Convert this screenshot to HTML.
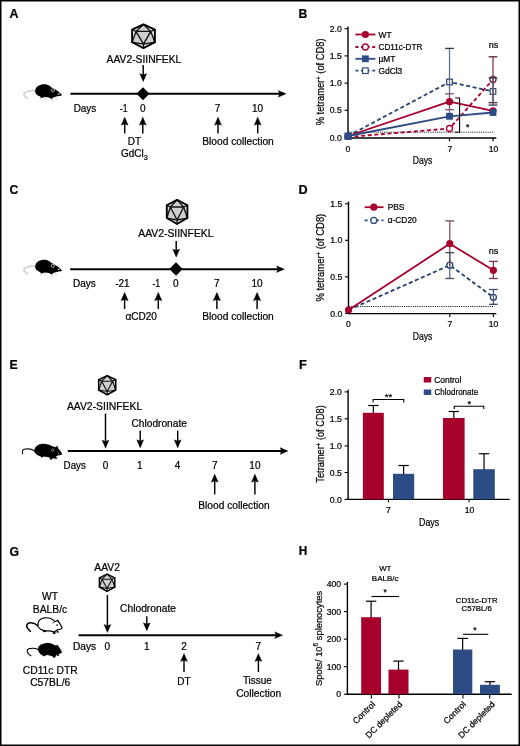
<!DOCTYPE html>
<html><head><meta charset="utf-8"><style>
html,body{margin:0;padding:0;background:#fff;width:520px;height:746px;overflow:hidden}
svg{will-change:transform}
svg text{font-family:"Liberation Sans", sans-serif;stroke:#000;stroke-width:0.22px;paint-order:stroke}
</style></head><body>
<svg width="520" height="746" viewBox="0 0 520 746" style="display:block" font-family='"Liberation Sans", sans-serif'>
<rect x="0" y="0" width="520" height="746" fill="#fff"/>
<text x="9.4" y="17.7" font-size="13" font-weight="bold" fill="#000" textLength="9.0" lengthAdjust="spacingAndGlyphs">A</text>
<g transform="translate(0 0)">
<path d="M35.4,90.8 C33.6,90.4 31.6,90.5 29.6,91 C27.4,91.5 25.4,91.9 24.6,92.8 C23.6,94 24.2,95.6 25.6,96.8 C26.2,97.4 26.8,97.9 27.4,98.2" fill="none" stroke="#d6d6d6" stroke-width="1.9" stroke-linecap="round"/>
<path d="M41,97.4 L40.2,99.4 M44.5,97.6 L45.4,99.8 M51.4,98.6 L52.6,100.6 M55,97.2 L56.6,99.6" stroke="#dcdcdc" stroke-width="1.4" stroke-linecap="round"/>
<path d="M35.2,91.1 C35.2,88.6 36.4,86.9 38,85.9 C40,84.6 43,84.1 45.2,84.3 C47.4,84.5 49.6,85.4 51.4,87.4 C53.4,88 55.6,89.4 57.7,91.1 C59.4,92.4 61,93.8 62.1,95 C61.2,95.7 60,95.9 58.8,96 L56.3,96.4 C55,96.8 54,97.2 53.4,97.6 L51.4,99 L50.4,98.2 C49.4,97.6 48.4,97.3 47.3,97.2 L43.8,97 L42.2,98 L40.6,97.5 L40.2,96.4 C38.2,96 36.6,95 35.8,93.8 C35.3,93 35.2,92 35.2,91.1 Z" fill="#000"/>
<circle cx="52.9" cy="90.3" r="1.55" fill="#000" stroke="#e4e4e4" stroke-width="0.75"/>
<ellipse cx="58.8" cy="93.9" rx="0.9" ry="0.6" fill="#fff"/>
</g>
<path d="M143.50,24.40 L154.90,29.64 L154.90,42.25 L143.50,48.08 L132.10,42.25 L132.10,29.64 Z" fill="#cfcfcf" stroke="none"/>
<path d="M132.10,29.64 L135.98,31.42 L132.10,42.25 Z" fill="#f2f2f2"/>
<path d="M154.90,29.64 L150.80,31.42 L154.90,42.25 Z" fill="#eeeeee"/>
<path d="M132.10,42.25 L143.50,44.15 L143.50,48.08 Z" fill="#e6e6e6"/>
<path d="M154.90,42.25 L143.50,44.15 L143.50,48.08 Z" fill="#e6e6e6"/>
<path d="M132.10,29.64 L143.50,24.40 L135.98,31.42 Z" fill="#f4f4f4"/>
<path d="M154.90,29.64 L143.50,24.40 L150.80,31.42 Z" fill="#f4f4f4"/>
<path d="M143.50,24.40 L135.98,31.42 M143.50,24.40 L150.80,31.42 M132.10,29.64 L135.98,31.42 M154.90,29.64 L150.80,31.42 M135.98,31.42 L132.10,42.25 M150.80,31.42 L154.90,42.25 M132.10,42.25 L143.50,44.15 M154.90,42.25 L143.50,44.15 M143.50,48.08 L143.50,44.15 M135.98,31.42 L150.80,31.42 M150.80,31.42 L143.50,44.15 M143.50,44.15 L135.98,31.42" stroke="#111" stroke-width="1.37" fill="none" stroke-linejoin="round" stroke-linecap="round"/>
<path d="M143.50,24.40 L154.90,29.64 L154.90,42.25 L143.50,48.08 L132.10,42.25 L132.10,29.64 Z" fill="none" stroke="#000" stroke-width="1.9" stroke-linejoin="round"/>
<text x="143.95" y="62.6" font-size="10.2" text-anchor="middle" fill="#000" textLength="74.7" lengthAdjust="spacingAndGlyphs" >AAV2-SIINFEKL</text>
<line x1="143.2" y1="65.1" x2="143.2" y2="75.3" stroke="#000" stroke-width="1.45"/>
<path d="M139.7,73.5 L143.2,81.7 L146.7,73.5 L143.2,74.8 Z" fill="#000" stroke="#000" stroke-width="0.3" stroke-linejoin="round"/>
<line x1="70.5" y1="93.8" x2="280.2" y2="93.8" stroke="#000" stroke-width="2.0"/>
<path d="M278.2,90.39999999999999 L286.2,93.8 L278.2,97.2 L279.7,93.8 Z" fill="#000" stroke="#000" stroke-width="0.3" stroke-linejoin="round"/>
<path d="M143,87.3 L149.5,93.8 L143,100.3 L136.5,93.8 Z" fill="#000"/>
<text x="85.0" y="111.9" font-size="10" text-anchor="middle" fill="#000" textLength="22.6" lengthAdjust="spacingAndGlyphs" >Days</text>
<text x="123.65" y="111.9" font-size="10" text-anchor="middle" fill="#000" textLength="7.7" lengthAdjust="spacingAndGlyphs" >-1</text>
<text x="142.7" y="111.9" font-size="10" text-anchor="middle" fill="#000" >0</text>
<text x="217.5" y="111.9" font-size="10" text-anchor="middle" fill="#000" >7</text>
<text x="257.5" y="111.9" font-size="10" text-anchor="middle" fill="#000" >10</text>
<line x1="124.7" y1="133.4" x2="124.7" y2="123.4" stroke="#000" stroke-width="1.45"/>
<path d="M121.2,125.2 L124.7,117 L128.2,125.2 L124.7,123.9 Z" fill="#000" stroke="#000" stroke-width="0.3" stroke-linejoin="round"/>
<line x1="142.8" y1="133.4" x2="142.8" y2="123.4" stroke="#000" stroke-width="1.45"/>
<path d="M139.3,125.2 L142.8,117 L146.3,125.2 L142.8,123.9 Z" fill="#000" stroke="#000" stroke-width="0.3" stroke-linejoin="round"/>
<line x1="218" y1="133.4" x2="218" y2="123.4" stroke="#000" stroke-width="1.45"/>
<path d="M214.5,125.2 L218,117 L221.5,125.2 L218,123.9 Z" fill="#000" stroke="#000" stroke-width="0.3" stroke-linejoin="round"/>
<line x1="257.7" y1="133.4" x2="257.7" y2="123.4" stroke="#000" stroke-width="1.45"/>
<path d="M254.2,125.2 L257.7,117 L261.2,125.2 L257.7,123.9 Z" fill="#000" stroke="#000" stroke-width="0.3" stroke-linejoin="round"/>
<text x="134.4" y="145.2" font-size="10" text-anchor="middle" fill="#000" >DT</text>
<text x="121" y="157.3" font-size="10" fill="#000">GdCl<tspan font-size="7.4" dy="2.6">3</tspan></text>
<text x="238.05" y="145.0" font-size="10" text-anchor="middle" fill="#000" textLength="71.5" lengthAdjust="spacingAndGlyphs" >Blood collection</text>
<text x="9.6" y="193.6" font-size="13" font-weight="bold" fill="#000" textLength="8.8" lengthAdjust="spacingAndGlyphs">C</text>
<g transform="translate(0 175.5)">
<path d="M35.4,90.8 C33.6,90.4 31.6,90.5 29.6,91 C27.4,91.5 25.4,91.9 24.6,92.8 C23.6,94 24.2,95.6 25.6,96.8 C26.2,97.4 26.8,97.9 27.4,98.2" fill="none" stroke="#d6d6d6" stroke-width="1.9" stroke-linecap="round"/>
<path d="M41,97.4 L40.2,99.4 M44.5,97.6 L45.4,99.8 M51.4,98.6 L52.6,100.6 M55,97.2 L56.6,99.6" stroke="#dcdcdc" stroke-width="1.4" stroke-linecap="round"/>
<path d="M35.2,91.1 C35.2,88.6 36.4,86.9 38,85.9 C40,84.6 43,84.1 45.2,84.3 C47.4,84.5 49.6,85.4 51.4,87.4 C53.4,88 55.6,89.4 57.7,91.1 C59.4,92.4 61,93.8 62.1,95 C61.2,95.7 60,95.9 58.8,96 L56.3,96.4 C55,96.8 54,97.2 53.4,97.6 L51.4,99 L50.4,98.2 C49.4,97.6 48.4,97.3 47.3,97.2 L43.8,97 L42.2,98 L40.6,97.5 L40.2,96.4 C38.2,96 36.6,95 35.8,93.8 C35.3,93 35.2,92 35.2,91.1 Z" fill="#000"/>
<circle cx="52.9" cy="90.3" r="1.55" fill="#000" stroke="#e4e4e4" stroke-width="0.75"/>
<ellipse cx="58.8" cy="93.9" rx="0.9" ry="0.6" fill="#fff"/>
</g>
<path d="M177.10,199.90 L187.40,205.22 L187.40,218.05 L177.10,223.98 L166.80,218.05 L166.80,205.22 Z" fill="#cfcfcf" stroke="none"/>
<path d="M166.80,205.22 L170.30,207.04 L166.80,218.05 Z" fill="#f2f2f2"/>
<path d="M187.40,205.22 L183.69,207.04 L187.40,218.05 Z" fill="#eeeeee"/>
<path d="M166.80,218.05 L177.10,219.99 L177.10,223.98 Z" fill="#e6e6e6"/>
<path d="M187.40,218.05 L177.10,219.99 L177.10,223.98 Z" fill="#e6e6e6"/>
<path d="M166.80,205.22 L177.10,199.90 L170.30,207.04 Z" fill="#f4f4f4"/>
<path d="M187.40,205.22 L177.10,199.90 L183.69,207.04 Z" fill="#f4f4f4"/>
<path d="M177.10,199.90 L170.30,207.04 M177.10,199.90 L183.69,207.04 M166.80,205.22 L170.30,207.04 M187.40,205.22 L183.69,207.04 M170.30,207.04 L166.80,218.05 M183.69,207.04 L187.40,218.05 M166.80,218.05 L177.10,219.99 M187.40,218.05 L177.10,219.99 M177.10,223.98 L177.10,219.99 M170.30,207.04 L183.69,207.04 M183.69,207.04 L177.10,219.99 M177.10,219.99 L170.30,207.04" stroke="#111" stroke-width="1.37" fill="none" stroke-linejoin="round" stroke-linecap="round"/>
<path d="M177.10,199.90 L187.40,205.22 L187.40,218.05 L177.10,223.98 L166.80,218.05 L166.80,205.22 Z" fill="none" stroke="#000" stroke-width="1.9" stroke-linejoin="round"/>
<text x="175.9" y="237.1" font-size="10.2" text-anchor="middle" fill="#000" textLength="75.2" lengthAdjust="spacingAndGlyphs" >AAV2-SIINFEKL</text>
<line x1="176.2" y1="241" x2="176.2" y2="250.90000000000003" stroke="#000" stroke-width="1.45"/>
<path d="M172.7,249.10000000000002 L176.2,257.3 L179.7,249.10000000000002 L176.2,250.40000000000003 Z" fill="#000" stroke="#000" stroke-width="0.3" stroke-linejoin="round"/>
<line x1="70.2" y1="269.2" x2="278.5" y2="269.2" stroke="#000" stroke-width="2.0"/>
<path d="M276.5,265.8 L284.5,269.2 L276.5,272.59999999999997 L278.0,269.2 Z" fill="#000" stroke="#000" stroke-width="0.3" stroke-linejoin="round"/>
<path d="M176,262.3 L182.7,269 L176,275.7 L169.3,269 Z" fill="#000"/>
<text x="84.35" y="286.9" font-size="10" text-anchor="middle" fill="#000" textLength="22.9" lengthAdjust="spacingAndGlyphs" >Days</text>
<text x="122.4" y="286.9" font-size="10" text-anchor="middle" fill="#000" >-21</text>
<text x="156.3" y="286.9" font-size="10" text-anchor="middle" fill="#000" textLength="7.8" lengthAdjust="spacingAndGlyphs" >-1</text>
<text x="175.8" y="286.9" font-size="10" text-anchor="middle" fill="#000" >0</text>
<text x="216.9" y="286.9" font-size="10" text-anchor="middle" fill="#000" >7</text>
<text x="257.1" y="286.9" font-size="10" text-anchor="middle" fill="#000" >10</text>
<line x1="124.6" y1="308.9" x2="124.6" y2="299.0" stroke="#000" stroke-width="1.45"/>
<path d="M120.89999999999999,300.8 L124.6,292.2 L128.29999999999998,300.8 L124.6,299.5 Z" fill="#000" stroke="#000" stroke-width="0.3" stroke-linejoin="round"/>
<line x1="158.3" y1="308.9" x2="158.3" y2="299.0" stroke="#000" stroke-width="1.45"/>
<path d="M154.60000000000002,300.8 L158.3,292.2 L162.0,300.8 L158.3,299.5 Z" fill="#000" stroke="#000" stroke-width="0.3" stroke-linejoin="round"/>
<line x1="216.9" y1="308.9" x2="216.9" y2="299.0" stroke="#000" stroke-width="1.45"/>
<path d="M213.20000000000002,300.8 L216.9,292.2 L220.6,300.8 L216.9,299.5 Z" fill="#000" stroke="#000" stroke-width="0.3" stroke-linejoin="round"/>
<line x1="257.1" y1="308.9" x2="257.1" y2="299.0" stroke="#000" stroke-width="1.45"/>
<path d="M253.40000000000003,300.8 L257.1,292.2 L260.8,300.8 L257.1,299.5 Z" fill="#000" stroke="#000" stroke-width="0.3" stroke-linejoin="round"/>
<text x="141.2" y="319.5" font-size="10" text-anchor="middle" fill="#000" textLength="31.6" lengthAdjust="spacingAndGlyphs" >&#945;CD20</text>
<text x="238" y="319.5" font-size="10" text-anchor="middle" fill="#000" textLength="71.5" lengthAdjust="spacingAndGlyphs" >Blood collection</text>
<text x="9.4" y="369.1" font-size="13" font-weight="bold" fill="#000" textLength="8.2" lengthAdjust="spacingAndGlyphs">E</text>
<path d="M34.3,450.8 C32.4,449.6 30.2,449 28.2,448.9 C25.6,448.8 23.2,449.2 22.6,450.6 C22.2,451.6 22.4,452.8 22.6,453.8" fill="none" stroke="#111" stroke-width="1.1" stroke-linecap="round"/>
<path d="M34.2,451.1 C34.6,448.6 35.6,447 36.8,446 C38.4,444.6 40.2,444 42.4,443.9 C45.4,443.8 48.6,444.2 51,445.8 C52.6,446.6 54.2,447 55.4,447.3 L57.4,446 L58,448.4 C59,449.2 59.8,450.2 60.3,451.1 C61,452.2 61.6,453.2 62.1,454.2 C61,454.8 60,455 58.9,455.1 L56.4,455.9 L55.6,457.1 L57.4,457.9 L57,458.6 L54.4,458.6 L52,457.9 L51.6,459.9 L50.2,459.2 L49.8,457.6 C48.8,457.3 47.6,457 46.5,456.8 L43,456.4 L42,457.4 L41.2,457.2 L40.8,456.3 C39.6,456 38.4,455.6 37.6,455 C36,454.2 34.8,453 34.2,451.1 Z" fill="#000" stroke="#000" stroke-width="0.3" stroke-linejoin="round"/>
<circle cx="52.7" cy="450.1" r="1.3" fill="none" stroke="#cfcfcf" stroke-width="0.55"/>
<circle cx="58.5" cy="453.3" r="0.55" fill="#eee"/>
<path d="M107.20,375.60 L115.70,379.82 L115.70,390.00 L107.20,394.70 L98.70,390.00 L98.70,379.82 Z" fill="#cfcfcf" stroke="none"/>
<path d="M98.70,379.82 L101.59,381.26 L98.70,390.00 Z" fill="#f2f2f2"/>
<path d="M115.70,379.82 L112.64,381.26 L115.70,390.00 Z" fill="#eeeeee"/>
<path d="M98.70,390.00 L107.20,391.54 L107.20,394.70 Z" fill="#e6e6e6"/>
<path d="M115.70,390.00 L107.20,391.54 L107.20,394.70 Z" fill="#e6e6e6"/>
<path d="M98.70,379.82 L107.20,375.60 L101.59,381.26 Z" fill="#f4f4f4"/>
<path d="M115.70,379.82 L107.20,375.60 L112.64,381.26 Z" fill="#f4f4f4"/>
<path d="M107.20,375.60 L101.59,381.26 M107.20,375.60 L112.64,381.26 M98.70,379.82 L101.59,381.26 M115.70,379.82 L112.64,381.26 M101.59,381.26 L98.70,390.00 M112.64,381.26 L115.70,390.00 M98.70,390.00 L107.20,391.54 M115.70,390.00 L107.20,391.54 M107.20,394.70 L107.20,391.54 M101.59,381.26 L112.64,381.26 M112.64,381.26 L107.20,391.54 M107.20,391.54 L101.59,381.26" stroke="#111" stroke-width="1.15" fill="none" stroke-linejoin="round" stroke-linecap="round"/>
<path d="M107.20,375.60 L115.70,379.82 L115.70,390.00 L107.20,394.70 L98.70,390.00 L98.70,379.82 Z" fill="none" stroke="#000" stroke-width="1.6" stroke-linejoin="round"/>
<text x="104.55" y="410.2" font-size="10.2" text-anchor="middle" fill="#000" textLength="75.3" lengthAdjust="spacingAndGlyphs" >AAV2-SIINFEKL</text>
<line x1="105.5" y1="413.6" x2="105.5" y2="441.90000000000003" stroke="#000" stroke-width="1.45"/>
<path d="M102.0,440.1 L105.5,448.3 L109.0,440.1 L105.5,441.40000000000003 Z" fill="#000" stroke="#000" stroke-width="0.3" stroke-linejoin="round"/>
<line x1="67.8" y1="451" x2="282.0" y2="451" stroke="#000" stroke-width="2.0"/>
<path d="M280.0,447.6 L288,451 L280.0,454.4 L281.5,451 Z" fill="#000" stroke="#000" stroke-width="0.3" stroke-linejoin="round"/>
<text x="159.2" y="427.3" font-size="10" text-anchor="middle" fill="#000" textLength="55.4" lengthAdjust="spacingAndGlyphs" >Chlodronate</text>
<line x1="140.2" y1="430.5" x2="140.2" y2="441.6" stroke="#000" stroke-width="1.45"/>
<path d="M136.7,439.8 L140.2,448 L143.7,439.8 L140.2,441.1 Z" fill="#000" stroke="#000" stroke-width="0.3" stroke-linejoin="round"/>
<line x1="177.7" y1="430.5" x2="177.7" y2="441.6" stroke="#000" stroke-width="1.45"/>
<path d="M174.2,439.8 L177.7,448 L181.2,439.8 L177.7,441.1 Z" fill="#000" stroke="#000" stroke-width="0.3" stroke-linejoin="round"/>
<text x="74.75" y="468.7" font-size="10" text-anchor="middle" fill="#000" textLength="22.3" lengthAdjust="spacingAndGlyphs" >Days</text>
<text x="105.5" y="468.7" font-size="10" text-anchor="middle" fill="#000" >0</text>
<text x="139.8" y="468.7" font-size="10" text-anchor="middle" fill="#000" >1</text>
<text x="177.5" y="468.7" font-size="10" text-anchor="middle" fill="#000" >4</text>
<text x="214.8" y="468.7" font-size="10" text-anchor="middle" fill="#000" >7</text>
<text x="254.9" y="468.7" font-size="10" text-anchor="middle" fill="#000" >10</text>
<line x1="214.7" y1="494.4" x2="214.7" y2="480.4" stroke="#000" stroke-width="1.45"/>
<path d="M211.2,482.2 L214.7,474.0 L218.2,482.2 L214.7,480.9 Z" fill="#000" stroke="#000" stroke-width="0.3" stroke-linejoin="round"/>
<line x1="254.9" y1="494.4" x2="254.9" y2="480.4" stroke="#000" stroke-width="1.45"/>
<path d="M251.4,482.2 L254.9,474.0 L258.4,482.2 L254.9,480.9 Z" fill="#000" stroke="#000" stroke-width="0.3" stroke-linejoin="round"/>
<text x="233.95" y="509.4" font-size="10" text-anchor="middle" fill="#000" textLength="71.3" lengthAdjust="spacingAndGlyphs" >Blood collection</text>
<text x="9.6" y="555.5" font-size="13" font-weight="bold" fill="#000" textLength="9.6" lengthAdjust="spacingAndGlyphs">G</text>
<text x="107.1" y="571.2" font-size="10" text-anchor="middle" fill="#000" textLength="25.6" lengthAdjust="spacingAndGlyphs" >AAV2</text>
<path d="M107.10,574.10 L114.80,577.93 L114.80,587.15 L107.10,591.41 L99.40,587.15 L99.40,577.93 Z" fill="#cfcfcf" stroke="none"/>
<path d="M99.40,577.93 L102.02,579.23 L99.40,587.15 Z" fill="#f2f2f2"/>
<path d="M114.80,577.93 L112.03,579.23 L114.80,587.15 Z" fill="#eeeeee"/>
<path d="M99.40,587.15 L107.10,588.54 L107.10,591.41 Z" fill="#e6e6e6"/>
<path d="M114.80,587.15 L107.10,588.54 L107.10,591.41 Z" fill="#e6e6e6"/>
<path d="M99.40,577.93 L107.10,574.10 L102.02,579.23 Z" fill="#f4f4f4"/>
<path d="M114.80,577.93 L107.10,574.10 L112.03,579.23 Z" fill="#f4f4f4"/>
<path d="M107.10,574.10 L102.02,579.23 M107.10,574.10 L112.03,579.23 M99.40,577.93 L102.02,579.23 M114.80,577.93 L112.03,579.23 M102.02,579.23 L99.40,587.15 M112.03,579.23 L114.80,587.15 M99.40,587.15 L107.10,588.54 M114.80,587.15 L107.10,588.54 M107.10,591.41 L107.10,588.54 M102.02,579.23 L112.03,579.23 M112.03,579.23 L107.10,588.54 M107.10,588.54 L102.02,579.23" stroke="#111" stroke-width="1.08" fill="none" stroke-linejoin="round" stroke-linecap="round"/>
<path d="M107.10,574.10 L114.80,577.93 L114.80,587.15 L107.10,591.41 L99.40,587.15 L99.40,577.93 Z" fill="none" stroke="#000" stroke-width="1.5" stroke-linejoin="round"/>
<line x1="107.4" y1="595" x2="107.4" y2="626.1999999999999" stroke="#000" stroke-width="1.45"/>
<path d="M103.9,624.4 L107.4,632.6 L110.9,624.4 L107.4,625.6999999999999 Z" fill="#000" stroke="#000" stroke-width="0.3" stroke-linejoin="round"/>
<line x1="78.6" y1="635.2" x2="276.7" y2="635.2" stroke="#000" stroke-width="2.0"/>
<path d="M274.7,631.8000000000001 L282.7,635.2 L274.7,638.6 L276.2,635.2 Z" fill="#000" stroke="#000" stroke-width="0.3" stroke-linejoin="round"/>
<text x="50" y="600.2" font-size="10.3" text-anchor="middle" fill="#000" >WT</text>
<text x="50" y="612.7" font-size="10.3" text-anchor="middle" fill="#000" >BALB/c</text>
<path d="M37.7,625.8 C36.6,624.6 34.6,623.2 32.2,622.9 C30.2,622.7 28.6,622.9 27.6,623.8 C26.4,625 26.6,626.8 27.6,628.4 C28.4,629.6 29.6,630.6 30.5,631.3" fill="none" stroke="#000" stroke-width="1.5" stroke-linecap="round"/>
<path d="M38.1,626.4 C37.8,624.6 38,622.8 38.6,621.6 C39.6,619.6 42,618 44.8,617.8 C47,617.6 49,617.9 50.6,618.5 C52.2,619.1 53.6,620.2 55,621.6 L58,620.2 L58.6,622 C59.6,623 60.2,624 60.6,625 C61.2,626 61.8,627 62.2,628 C61.6,628.8 60.8,629.2 60,629.3 L57.5,629.7 C56.4,630.4 55.4,631 54.6,631.8 C53,631.8 51.4,631.4 49.9,630.9 C48,630.7 46.4,630.8 44.8,630.9 C43,630.4 41.6,629.8 40.6,629.3 C39.4,628.4 38.5,627.5 38.1,626.4 Z" fill="#fff" stroke="#000" stroke-width="1.2" stroke-linejoin="round"/>
<ellipse cx="44.6" cy="631.2" rx="1.7" ry="0.95" fill="#000"/>
<ellipse cx="54.2" cy="633" rx="1.6" ry="1.05" fill="#000"/>
<ellipse cx="57.6" cy="631.9" rx="1.3" ry="0.8" fill="#000"/>
<circle cx="57.1" cy="625" r="0.85" fill="#000"/>
<path d="M52.8,623.6 C52.6,622.4 53.6,621.6 54.8,622" fill="none" stroke="#222" stroke-width="0.7"/>
<path d="M38.1,649.4 C36.4,648.6 34.6,648.2 33,648.2 C31,648.2 29.4,648.2 28.6,648.8 C27,649.8 27,651.6 27.9,653.2 C28.8,654.4 29.8,655.2 30.9,655.8" fill="none" stroke="#000" stroke-width="1.1" stroke-linecap="round"/>
<path d="M38.1,650.2 C38,648.6 38.3,647.4 38.9,646.5 C40,645 41.4,644.2 43.2,643.9 C44.8,643.3 46,643.1 47.4,643.1 C49.4,643.1 51.2,643.6 52.5,644.3 C53.8,644.9 54.9,645.4 55.8,645.8 L57.6,644.9 L58.4,646.4 C59.6,647.8 61,650 62,652.4 C61.2,653.1 60.2,653.5 59.2,653.7 L58.4,654.8 L59.4,655.6 L57.2,655.8 L56.2,654.6 L55.4,656.8 L54.6,657.8 L53.2,657.2 L52.6,656.2 C50.8,655.6 49,655.2 47.4,654.8 L45.2,655.4 L44.4,656.2 L42.7,655.6 C41.6,654.8 40.6,654 39.8,653.2 C38.9,652.3 38.3,651.3 38.1,650.2 Z" fill="#000" stroke="#000" stroke-width="0.3" stroke-linejoin="round"/>
<text x="50.2" y="674.0" font-size="10.3" text-anchor="middle" fill="#000" textLength="55.0" lengthAdjust="spacingAndGlyphs" >CD11c DTR</text>
<text x="50.2" y="686.0" font-size="10.3" text-anchor="middle" fill="#000" >C57BL/6</text>
<text x="84.6" y="649.6" font-size="10" text-anchor="middle" fill="#000" textLength="23.2" lengthAdjust="spacingAndGlyphs" >Days</text>
<text x="107.3" y="649.6" font-size="10" text-anchor="middle" fill="#000" >0</text>
<text x="146.8" y="649.6" font-size="10" text-anchor="middle" fill="#000" >1</text>
<text x="184" y="649.6" font-size="10" text-anchor="middle" fill="#000" >2</text>
<text x="258.2" y="649.6" font-size="10" text-anchor="middle" fill="#000" >7</text>
<text x="148.0" y="611.9" font-size="10" text-anchor="middle" fill="#000" textLength="56" lengthAdjust="spacingAndGlyphs" >Chlodronate</text>
<line x1="146.8" y1="616.3" x2="146.8" y2="624.5999999999999" stroke="#000" stroke-width="1.45"/>
<path d="M143.3,622.8 L146.8,631 L150.3,622.8 L146.8,624.0999999999999 Z" fill="#000" stroke="#000" stroke-width="0.3" stroke-linejoin="round"/>
<line x1="184" y1="672" x2="184" y2="659.8000000000001" stroke="#000" stroke-width="1.45"/>
<path d="M180.5,661.6 L184,653.4 L187.5,661.6 L184,660.3000000000001 Z" fill="#000" stroke="#000" stroke-width="0.3" stroke-linejoin="round"/>
<line x1="258.4" y1="672" x2="258.4" y2="659.8000000000001" stroke="#000" stroke-width="1.45"/>
<path d="M254.89999999999998,661.6 L258.4,653.4 L261.9,661.6 L258.4,660.3000000000001 Z" fill="#000" stroke="#000" stroke-width="0.3" stroke-linejoin="round"/>
<text x="184" y="684.6" font-size="10" text-anchor="middle" fill="#000" >DT</text>
<text x="257.35" y="684.3" font-size="10.3" text-anchor="middle" fill="#000" textLength="28.9" lengthAdjust="spacingAndGlyphs" >Tissue</text>
<text x="258.7" y="697.0" font-size="10.3" text-anchor="middle" fill="#000" textLength="45.0" lengthAdjust="spacingAndGlyphs" >Collection</text>
<text x="298.4" y="17.7" font-size="13" font-weight="bold" fill="#000" textLength="8.8" lengthAdjust="spacingAndGlyphs">B</text>
<line x1="348" y1="26.5" x2="348" y2="138.2" stroke="#000" stroke-width="1.4"/>
<line x1="344.5" y1="28.7" x2="348" y2="28.7" stroke="#000" stroke-width="1.1"/>
<text x="341.8" y="31.8" font-size="8.7" text-anchor="end" fill="#000" >2.0</text>
<line x1="344.5" y1="55.9" x2="348" y2="55.9" stroke="#000" stroke-width="1.1"/>
<text x="341.8" y="59.0" font-size="8.7" text-anchor="end" fill="#000" >1.5</text>
<line x1="344.5" y1="83.1" x2="348" y2="83.1" stroke="#000" stroke-width="1.1"/>
<text x="341.8" y="86.2" font-size="8.7" text-anchor="end" fill="#000" >1.0</text>
<line x1="344.5" y1="110.3" x2="348" y2="110.3" stroke="#000" stroke-width="1.1"/>
<text x="341.8" y="113.4" font-size="8.7" text-anchor="end" fill="#000" >0.5</text>
<line x1="344.5" y1="137.5" x2="348" y2="137.5" stroke="#000" stroke-width="1.1"/>
<text x="341.8" y="140.6" font-size="8.7" text-anchor="end" fill="#000" >0.0</text>
<line x1="347.3" y1="137.9" x2="496.3" y2="137.9" stroke="#000" stroke-width="1.5"/>
<line x1="449.5" y1="137.9" x2="449.5" y2="141.2" stroke="#000" stroke-width="1.2"/>
<line x1="493.0" y1="137.9" x2="493.0" y2="141.2" stroke="#000" stroke-width="1.2"/>
<text x="348" y="152" font-size="8.6" text-anchor="middle" fill="#000" >0</text>
<text x="449.8" y="152" font-size="8.6" text-anchor="middle" fill="#000" >7</text>
<text x="493.5" y="152" font-size="8.6" text-anchor="middle" fill="#000" >10</text>
<text x="422.5" y="163.8" font-size="10.3" text-anchor="middle" fill="#000" textLength="19.6" lengthAdjust="spacingAndGlyphs" >Days</text>
<text x="324.3" y="81.9" font-size="10" text-anchor="middle" fill="#000" textLength="86.8" lengthAdjust="spacingAndGlyphs" transform="rotate(-90 324.3 81.9)" >% tetramer<tspan font-size="6.5" dy="-3.4">+</tspan><tspan dy="3.4"> (of CD8)</tspan></text>
<line x1="349" y1="132.2" x2="493" y2="132.2" stroke="#000" stroke-width="0.9" stroke-dasharray="1.1 1.1"/>
<line x1="449.5" y1="48.4" x2="449.5" y2="115.6" stroke="#5f6b88" stroke-width="1.2"/>
<line x1="445.1" y1="48.4" x2="453.9" y2="48.4" stroke="#34363f" stroke-width="1.3"/>
<line x1="449.5" y1="93.8" x2="449.5" y2="109.7" stroke="#6f5a6a" stroke-width="1.2"/>
<line x1="445.1" y1="93.8" x2="453.9" y2="93.8" stroke="#7a5566" stroke-width="1.3"/>
<line x1="445.1" y1="109.7" x2="453.9" y2="109.7" stroke="#7a5566" stroke-width="1.3"/>
<polyline points="348,136 449.5,82 493.0,91.5" fill="none" stroke="#26416f" stroke-width="1.8" stroke-dasharray="4 2.6" stroke-linejoin="round"/>
<polyline points="348,137 449.5,128.5 493.0,79.5" fill="none" stroke="#a6012d" stroke-width="1.8" stroke-dasharray="4 2.6" stroke-linejoin="round"/>
<polyline points="348,136 449.5,101.7 493.0,110.8" fill="none" stroke="#a6012d" stroke-width="1.8" stroke-linejoin="round"/>
<polyline points="348,136 449.5,116.3 493.0,112.5" fill="none" stroke="#2d4b85" stroke-width="1.8" stroke-linejoin="round"/>
<circle cx="449.5" cy="101.7" r="3.6" fill="#a6012d"/>
<circle cx="493.0" cy="110.8" r="3.6" fill="#a6012d"/>
<rect x="446.09999999999997" y="112.9" width="6.8" height="6.8" fill="#2d4b85"/>
<rect x="489.59999999999997" y="109.10000000000001" width="6.8" height="6.8" fill="#2d4b85"/>
<rect x="446.7" y="79.2" width="5.6" height="5.6" fill="#fff" stroke="#26416f" stroke-width="1.2"/>
<rect x="490.2" y="88.7" width="5.6" height="5.6" fill="#fff" stroke="#2f4d66" stroke-width="1.2"/>
<circle cx="449.5" cy="128.5" r="3.0" fill="#fff" stroke="#a6012d" stroke-width="1.3"/>
<circle cx="493.0" cy="79.5" r="3.0" fill="#fff" stroke="#8a1a3c" stroke-width="1.3"/>
<circle cx="348" cy="136.5" r="3.6" fill="#a6012d"/>
<rect x="344.40000000000003" y="132.49999999999997" width="7.3999999999999995" height="7.3999999999999995" fill="#2d4b85"/>
<line x1="449.5" y1="76" x2="449.5" y2="88" stroke="#5f6b88" stroke-width="1.2"/>
<line x1="493.0" y1="56.8" x2="493.0" y2="102.7" stroke="#7a3048" stroke-width="1.2"/>
<line x1="488.6" y1="56.8" x2="497.4" y2="56.8" stroke="#5a2030" stroke-width="1.3"/>
<line x1="488.6" y1="102.7" x2="497.4" y2="102.7" stroke="#5a2030" stroke-width="1.3"/>
<line x1="493.0" y1="77.9" x2="493.0" y2="105.1" stroke="#4a5a78" stroke-width="1.2"/>
<line x1="488.6" y1="77.9" x2="497.4" y2="77.9" stroke="#2d3550" stroke-width="1.3"/>
<line x1="488.6" y1="105.1" x2="497.4" y2="105.1" stroke="#2d3550" stroke-width="1.3"/>
<path d="M455.2,98 H459.6 V132.2 H455.2" fill="none" stroke="#000" stroke-width="1.1"/>
<text x="467.8" y="130.2" font-size="9" text-anchor="middle" fill="#000" >*</text>
<text x="493.6" y="47.9" font-size="9" text-anchor="middle" fill="#000" >ns</text>
<line x1="355.4" y1="34.5" x2="375.4" y2="34.5" stroke="#a6012d" stroke-width="1.8"/>
<circle cx="365.4" cy="34.5" r="3.6" fill="#a6012d"/>
<text x="378.5" y="37.5" font-size="8.4" text-anchor="start" fill="#000" >WT</text>
<line x1="355.4" y1="47" x2="375.4" y2="47" stroke="#a6012d" stroke-width="1.8" stroke-dasharray="3 2.6"/>
<circle cx="365.4" cy="47" r="3.0" fill="#fff" stroke="#a6012d" stroke-width="1.3"/>
<text x="378.5" y="50.0" font-size="8.4" text-anchor="start" fill="#000" textLength="43.8" lengthAdjust="spacingAndGlyphs" >CD11c-DTR</text>
<line x1="355.4" y1="58.8" x2="375.4" y2="58.8" stroke="#2d4b85" stroke-width="1.8"/>
<rect x="361.99999999999994" y="55.4" width="6.8" height="6.8" fill="#2d4b85"/>
<text x="378.5" y="61.8" font-size="8.4" text-anchor="start" fill="#000" >&#181;MT</text>
<line x1="355.4" y1="70.7" x2="375.4" y2="70.7" stroke="#2d4b85" stroke-width="1.8" stroke-dasharray="3 2.6"/>
<rect x="362.59999999999997" y="67.9" width="5.6" height="5.6" fill="#fff" stroke="#2d4b85" stroke-width="1.2"/>
<text x="378.5" y="73.7" font-size="8.4" text-anchor="start" fill="#000" >GdCl3</text>
<text x="298.4" y="193.6" font-size="13" font-weight="bold" fill="#000" textLength="9.1" lengthAdjust="spacingAndGlyphs">D</text>
<line x1="348.5" y1="201.60000000000002" x2="348.5" y2="314.09999999999997" stroke="#000" stroke-width="1.4"/>
<line x1="345.0" y1="203.8" x2="348.5" y2="203.8" stroke="#000" stroke-width="1.1"/>
<text x="342.3" y="206.9" font-size="8.7" text-anchor="end" fill="#000" >1.5</text>
<line x1="345.0" y1="240.3" x2="348.5" y2="240.3" stroke="#000" stroke-width="1.1"/>
<text x="342.3" y="243.4" font-size="8.7" text-anchor="end" fill="#000" >1.0</text>
<line x1="345.0" y1="276.9" x2="348.5" y2="276.9" stroke="#000" stroke-width="1.1"/>
<text x="342.3" y="280.0" font-size="8.7" text-anchor="end" fill="#000" >0.5</text>
<line x1="345.0" y1="313.4" x2="348.5" y2="313.4" stroke="#000" stroke-width="1.1"/>
<text x="342.3" y="316.5" font-size="8.7" text-anchor="end" fill="#000" >0.0</text>
<line x1="347.8" y1="313.6" x2="496.3" y2="313.6" stroke="#000" stroke-width="1.4"/>
<line x1="449.8" y1="313.6" x2="449.8" y2="317" stroke="#000" stroke-width="1.1"/>
<line x1="493.4" y1="313.6" x2="493.4" y2="317" stroke="#000" stroke-width="1.1"/>
<text x="348.5" y="327.1" font-size="8.6" text-anchor="middle" fill="#000" >0</text>
<text x="449.8" y="327.1" font-size="8.6" text-anchor="middle" fill="#000" >7</text>
<text x="493.6" y="327.1" font-size="8.6" text-anchor="middle" fill="#000" >10</text>
<text x="422.5" y="339.6" font-size="10.3" text-anchor="middle" fill="#000" textLength="19.6" lengthAdjust="spacingAndGlyphs" >Days</text>
<text x="324.3" y="257.6" font-size="10" text-anchor="middle" fill="#000" textLength="87.7" lengthAdjust="spacingAndGlyphs" transform="rotate(-90 324.3 257.6)" >% tetramer<tspan font-size="6.5" dy="-3.4">+</tspan><tspan dy="3.4"> (of CD8)</tspan></text>
<line x1="349" y1="306.5" x2="493" y2="306.5" stroke="#000" stroke-width="0.9" stroke-dasharray="1.1 1.1"/>
<line x1="449.8" y1="220.9" x2="449.8" y2="262" stroke="#7a4358" stroke-width="1.2"/>
<line x1="445.40000000000003" y1="220.9" x2="454.2" y2="220.9" stroke="#6a4a58" stroke-width="1.3"/>
<line x1="493.4" y1="261.4" x2="493.4" y2="278.5" stroke="#7a3350" stroke-width="1.2"/>
<line x1="489.0" y1="261.4" x2="497.79999999999995" y2="261.4" stroke="#7a3350" stroke-width="1.3"/>
<line x1="489.0" y1="278.5" x2="497.79999999999995" y2="278.5" stroke="#7a3350" stroke-width="1.3"/>
<polyline points="348.5,310 449.8,265.2 493.4,297.3" fill="none" stroke="#26416f" stroke-width="1.8" stroke-dasharray="4 2.6" stroke-linejoin="round"/>
<polyline points="348.5,310 449.8,243.7 493.4,270.3" fill="none" stroke="#a6012d" stroke-width="1.8" stroke-linejoin="round"/>
<circle cx="449.8" cy="243.7" r="3.6" fill="#a6012d"/>
<circle cx="493.4" cy="270.3" r="3.6" fill="#a6012d"/>
<circle cx="449.8" cy="265.2" r="3.0" fill="#fff" stroke="#26416f" stroke-width="1.3"/>
<circle cx="493.4" cy="297.3" r="3.0" fill="#fff" stroke="#26416f" stroke-width="1.3"/>
<circle cx="348.5" cy="310" r="3.6" fill="#a6012d"/>
<line x1="449.8" y1="252.6" x2="449.8" y2="278.5" stroke="#4d5a7a" stroke-width="1.2"/>
<line x1="445.40000000000003" y1="252.6" x2="454.2" y2="252.6" stroke="#454a5a" stroke-width="1.3"/>
<line x1="445.40000000000003" y1="278.5" x2="454.2" y2="278.5" stroke="#454a5a" stroke-width="1.3"/>
<line x1="449.8" y1="260" x2="449.8" y2="266" stroke="#7a4358" stroke-width="1.2"/>
<line x1="493.4" y1="289.5" x2="493.4" y2="304.3" stroke="#4d5a7a" stroke-width="1.2"/>
<line x1="489.0" y1="289.5" x2="497.79999999999995" y2="289.5" stroke="#3d4a6a" stroke-width="1.3"/>
<line x1="489.0" y1="304.3" x2="497.79999999999995" y2="304.3" stroke="#3d4a6a" stroke-width="1.3"/>
<text x="493.6" y="253.6" font-size="9" text-anchor="middle" fill="#000" >ns</text>
<line x1="364.6" y1="207.2" x2="383.5" y2="207.2" stroke="#a6012d" stroke-width="1.8"/>
<circle cx="373.8" cy="207.2" r="3.6" fill="#a6012d"/>
<text x="387.7" y="210.2" font-size="8.4" text-anchor="start" fill="#000" >PBS</text>
<line x1="364.6" y1="220.4" x2="383.5" y2="220.4" stroke="#2d4b85" stroke-width="1.8" stroke-dasharray="3 2.6"/>
<circle cx="373.8" cy="220.4" r="3.0" fill="#fff" stroke="#2d4b85" stroke-width="1.3"/>
<text x="387.7" y="223.4" font-size="8.4" text-anchor="start" fill="#000" >&#945;-CD20</text>
<text x="299.0" y="369.1" font-size="13" font-weight="bold" fill="#000" textLength="7.8" lengthAdjust="spacingAndGlyphs">F</text>
<line x1="348.1" y1="389.7" x2="348.1" y2="500.09999999999997" stroke="#000" stroke-width="1.4"/>
<line x1="344.6" y1="391.9" x2="348.1" y2="391.9" stroke="#000" stroke-width="1.1"/>
<text x="341.90000000000003" y="395.0" font-size="8.7" text-anchor="end" fill="#000" >2.0</text>
<line x1="344.6" y1="418.8" x2="348.1" y2="418.8" stroke="#000" stroke-width="1.1"/>
<text x="341.90000000000003" y="421.9" font-size="8.7" text-anchor="end" fill="#000" >1.5</text>
<line x1="344.6" y1="445.9" x2="348.1" y2="445.9" stroke="#000" stroke-width="1.1"/>
<text x="341.90000000000003" y="449.0" font-size="8.7" text-anchor="end" fill="#000" >1.0</text>
<line x1="344.6" y1="472.5" x2="348.1" y2="472.5" stroke="#000" stroke-width="1.1"/>
<text x="341.90000000000003" y="475.6" font-size="8.7" text-anchor="end" fill="#000" >0.5</text>
<line x1="344.6" y1="499.4" x2="348.1" y2="499.4" stroke="#000" stroke-width="1.1"/>
<text x="341.90000000000003" y="502.5" font-size="8.7" text-anchor="end" fill="#000" >0.0</text>
<line x1="347.4" y1="499.4" x2="509.6" y2="499.4" stroke="#000" stroke-width="1.4"/>
<line x1="388.4" y1="499.4" x2="388.4" y2="502.3" stroke="#000" stroke-width="1.1"/>
<line x1="469" y1="499.4" x2="469" y2="502.3" stroke="#000" stroke-width="1.1"/>
<text x="388.4" y="513.3" font-size="8.6" text-anchor="middle" fill="#000" >7</text>
<text x="469.5" y="513.3" font-size="8.6" text-anchor="middle" fill="#000" >10</text>
<text x="429.1" y="525.8" font-size="10.3" text-anchor="middle" fill="#000" textLength="20.2" lengthAdjust="spacingAndGlyphs" >Days</text>
<text x="324.3" y="443.9" font-size="10" text-anchor="middle" fill="#000" textLength="77.5" lengthAdjust="spacingAndGlyphs" transform="rotate(-90 324.3 443.9)" >Tetramer<tspan font-size="6.5" dy="-3.4">+</tspan><tspan dy="3.4"> (of CD8)</tspan></text>
<line x1="373.35" y1="405.5" x2="373.35" y2="413.8" stroke="#000" stroke-width="1.2"/>
<line x1="368.15000000000003" y1="405.5" x2="378.55" y2="405.5" stroke="#000" stroke-width="1.2"/>
<rect x="362.9" y="412.8" width="20.90" height="86.60" fill="#a6012d"/>
<line x1="403.6" y1="465.5" x2="403.6" y2="474.8" stroke="#000" stroke-width="1.2"/>
<line x1="398.40000000000003" y1="465.5" x2="408.8" y2="465.5" stroke="#000" stroke-width="1.2"/>
<rect x="393" y="473.8" width="21.20" height="25.60" fill="#2d4b85"/>
<line x1="453.8" y1="411.5" x2="453.8" y2="419" stroke="#000" stroke-width="1.2"/>
<line x1="448.6" y1="411.5" x2="459.0" y2="411.5" stroke="#000" stroke-width="1.2"/>
<rect x="443" y="418" width="21.60" height="81.40" fill="#a6012d"/>
<line x1="484.05" y1="453.75" x2="484.05" y2="470.2" stroke="#000" stroke-width="1.2"/>
<line x1="478.85" y1="453.75" x2="489.25" y2="453.75" stroke="#000" stroke-width="1.2"/>
<rect x="473.3" y="469.2" width="21.50" height="30.20" fill="#2d4b85"/>
<path d="M373.1,402.5 V399.5 H403.75 V402.5" fill="none" stroke="#000" stroke-width="1.1"/>
<text x="388.4" y="400.2" font-size="9.5" text-anchor="middle" fill="#000" >**</text>
<path d="M454.25,409 V406.25 H483.75 V409" fill="none" stroke="#000" stroke-width="1.1"/>
<text x="469.25" y="406.9" font-size="9.5" text-anchor="middle" fill="#000" >*</text>
<rect x="423.75" y="377" width="7.5" height="5.5" fill="#a6012d"/>
<rect x="423.75" y="389.5" width="7.5" height="5.5" fill="#2d4b85"/>
<text x="434.3" y="382.6" font-size="8.4" text-anchor="start" fill="#000" >Control</text>
<text x="456.4" y="395.1" font-size="8.4" text-anchor="middle" fill="#000" textLength="43.6" lengthAdjust="spacingAndGlyphs" >Chlodronate</text>
<text x="298.7" y="555.3" font-size="13" font-weight="bold" fill="#000" textLength="8.5" lengthAdjust="spacingAndGlyphs">H</text>
<g transform="translate(0 0.5)">
<line x1="347.4" y1="581.4" x2="347.4" y2="694.4000000000001" stroke="#000" stroke-width="1.4"/>
<line x1="343.9" y1="583.6" x2="347.4" y2="583.6" stroke="#000" stroke-width="1.1"/>
<text x="341.2" y="586.7" font-size="8.7" text-anchor="end" fill="#000" >400</text>
<line x1="343.9" y1="611.1" x2="347.4" y2="611.1" stroke="#000" stroke-width="1.1"/>
<text x="341.2" y="614.2" font-size="8.7" text-anchor="end" fill="#000" >300</text>
<line x1="343.9" y1="638.6" x2="347.4" y2="638.6" stroke="#000" stroke-width="1.1"/>
<text x="341.2" y="641.7" font-size="8.7" text-anchor="end" fill="#000" >200</text>
<line x1="343.9" y1="666.2" x2="347.4" y2="666.2" stroke="#000" stroke-width="1.1"/>
<text x="341.2" y="669.3" font-size="8.7" text-anchor="end" fill="#000" >100</text>
<line x1="343.9" y1="693.7" x2="347.4" y2="693.7" stroke="#000" stroke-width="1.1"/>
<text x="341.2" y="696.8" font-size="8.7" text-anchor="end" fill="#000" >0</text>
<line x1="346.7" y1="693.7" x2="511.7" y2="693.7" stroke="#000" stroke-width="1.4"/>
<line x1="371.4" y1="693.7" x2="371.4" y2="698" stroke="#000" stroke-width="1.1"/>
<line x1="399" y1="693.7" x2="399" y2="698" stroke="#000" stroke-width="1.1"/>
<line x1="462.9" y1="693.7" x2="462.9" y2="698" stroke="#000" stroke-width="1.1"/>
<line x1="489.7" y1="693.7" x2="489.7" y2="698" stroke="#000" stroke-width="1.1"/>
<line x1="371.1" y1="600.7" x2="371.1" y2="617.7" stroke="#000" stroke-width="1.2"/>
<line x1="365.90000000000003" y1="600.7" x2="376.3" y2="600.7" stroke="#000" stroke-width="1.2"/>
<rect x="361.2" y="616.7" width="19.80" height="77.00" fill="#a6012d"/>
<line x1="398.5" y1="660.6" x2="398.5" y2="670.1" stroke="#000" stroke-width="1.2"/>
<line x1="393.3" y1="660.6" x2="403.7" y2="660.6" stroke="#000" stroke-width="1.2"/>
<rect x="388.5" y="669.1" width="20.00" height="24.60" fill="#a6012d"/>
<line x1="462.65" y1="637.9" x2="462.65" y2="650" stroke="#000" stroke-width="1.2"/>
<line x1="457.45" y1="637.9" x2="467.84999999999997" y2="637.9" stroke="#000" stroke-width="1.2"/>
<rect x="453" y="649" width="19.30" height="44.70" fill="#2d4b85"/>
<line x1="489.95" y1="681.2" x2="489.95" y2="685.3" stroke="#000" stroke-width="1.2"/>
<line x1="484.75" y1="681.2" x2="495.15" y2="681.2" stroke="#000" stroke-width="1.2"/>
<rect x="480" y="684.3" width="19.90" height="9.40" fill="#2d4b85"/>
<line x1="371.4" y1="596" x2="399" y2="596" stroke="#000" stroke-width="1.1"/>
<text x="385.2" y="594.6" font-size="8.6" text-anchor="middle" fill="#000" >*</text>
<line x1="462.9" y1="633.8" x2="488.3" y2="633.8" stroke="#000" stroke-width="1.1"/>
<text x="475" y="632.3" font-size="8.6" text-anchor="middle" fill="#000" >*</text>
<text x="385.2" y="570.5" font-size="7.8" text-anchor="middle" fill="#000" >WT</text>
<text x="385.2" y="580.3" font-size="8" text-anchor="middle" fill="#000" >BALB/c</text>
<text x="476.7" y="602.1" font-size="7.8" text-anchor="middle" fill="#000" >CD11c-DTR</text>
<text x="476.7" y="610.6" font-size="7.8" text-anchor="middle" fill="#000" >C57BL/6</text>
<text x="375.8" y="704.4" font-size="8.6" text-anchor="end" fill="#000" transform="rotate(-45 375.8 704.4)" >Control</text>
<text x="402.8" y="704.4" font-size="8.6" text-anchor="end" fill="#000" transform="rotate(-45 402.8 704.4)" >DC depleted</text>
<text x="466.5" y="704.4" font-size="8.6" text-anchor="end" fill="#000" transform="rotate(-45 466.5 704.4)" >Control</text>
<text x="495.5" y="704.4" font-size="8.6" text-anchor="end" fill="#000" transform="rotate(-45 495.5 704.4)" >DC depleted</text>
<text x="321.85" y="637.9" font-size="9.3" text-anchor="middle" fill="#000" textLength="95" lengthAdjust="spacingAndGlyphs" transform="rotate(-90 321.85 637.9)" >Spots/ 10<tspan font-size="6.5" dy="-3.4">6</tspan><tspan dy="3.4"> splenocytes</tspan></text>
</g>
<rect x="0.75" y="0.75" width="518.5" height="744.5" fill="none" stroke="#000" stroke-width="1.5"/>
</svg>
</body></html>
